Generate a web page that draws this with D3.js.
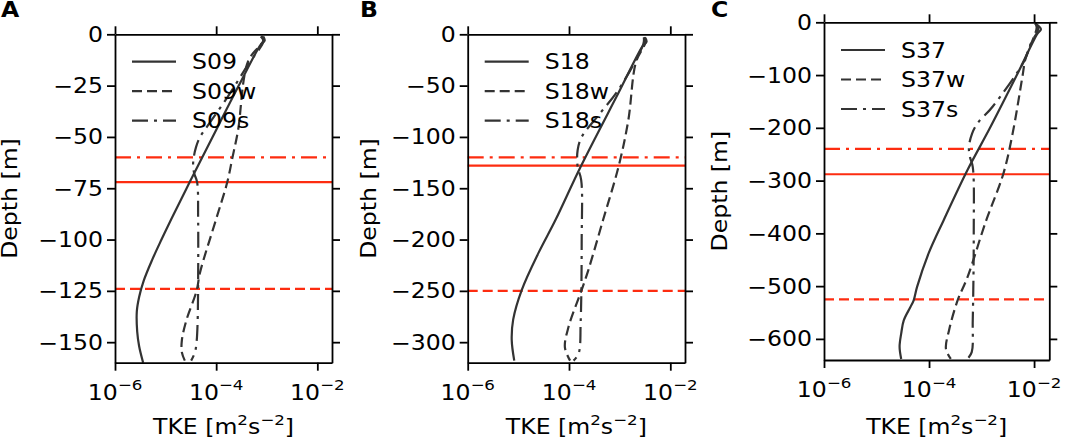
<!DOCTYPE html>
<html>
<head>
<meta charset="utf-8">
<script src="https://cdn.jsdelivr.net/npm/d3@7"></script>
<style>
  body { margin: 0; background: #fff; }
  text { font-family: "DejaVu Sans", sans-serif; fill: #000; }
</style>
</head>
<body>
<div id="chart"></div>
<script>
// depth [m] and TKE [m2 s-2]
var depthA  = [ -1, -3, -5, -25, -50, -72, -90, -100, -110, -120, -128, -135, -145, -152, -160 ];
var tkeA    = [ 8.5e-4, 9.1e-4, 7.6e-4, 2.8e-4, 8.5e-5, 3.0e-5, 1.3e-5, 8.3e-6, 5.4e-6, 3.7e-6, 3.0e-6, 2.7e-6, 2.75e-6, 3.0e-6, 3.6e-6 ];
var depthAw = [ -1, -3, -13, -47, -60, -72, -90, -116, -125, -139, -149, -155, -159 ];
var tkeAw   = [ 7.6e-4, 8.5e-4, 4.3e-4, 2.7e-4, 2.1e-4, 1.66e-4, 1.0e-4, 4.8e-5, 4.1e-5, 2.6e-5, 2.1e-5, 2.1e-5, 2.4e-5 ];
var depthAs = [ -1, -3, -15, -30, -45, -50, -55, -60, -64, -68, -72, -90, -120, -140, -150, -155, -159 ];
var tkeAs   = [ 7.9e-4, 8.7e-4, 4.2e-4, 1.74e-4, 6.6e-5, 4.8e-5, 4.0e-5, 3.6e-5, 3.5e-5, 3.7e-5, 4.2e-5, 4.4e-5, 4.4e-5, 4.3e-5, 4.1e-5, 3.8e-5, 3.2e-5 ];

var depthB  = [ -3, -7, -12, -57, -130, -181, -213, -249, -278, -298, -318 ];
var tkeB    = [ 3.16e-3, 3.4e-3, 2.8e-3, 9.5e-4, 1.66e-4, 5.4e-5, 2.5e-5, 1.17e-5, 7.9e-6, 7.4e-6, 8.3e-6 ];
var depthBw = [ -3, -8, -27, -84, -129, -181, -230, -249, -285, -305, -318 ];
var tkeBw   = [ 3.0e-3, 3.2e-3, 2.1e-3, 1.48e-3, 9.5e-4, 4.7e-4, 2.4e-4, 1.78e-4, 9.8e-5, 8.3e-5, 1.05e-4 ];
var depthBs = [ -3, -9, -54, -79, -100, -113, -129, -142, -200, -280, -311, -318 ];
var tkeBs   = [ 3.0e-3, 2.95e-3, 9.5e-4, 3.8e-4, 1.78e-4, 1.48e-4, 1.48e-4, 1.74e-4, 1.78e-4, 1.7e-4, 1.55e-4, 1.23e-4 ];

var depthC  = [ -2, -13, -22, -100, -200, -280, -375, -438, -502, -527, -540, -565, -590, -615, -638 ];
var tkeC    = [ 1.05e-2, 1.35e-2, 1.15e-2, 4.7e-3, 1.45e-3, 5.4e-4, 1.9e-4, 9.8e-5, 5.9e-5, 5.1e-5, 4.4e-5, 3.3e-5, 2.95e-5, 2.75e-5, 2.95e-5 ];
var depthCw = [ -2, -10, -68, -103, -211, -287, -378, -483, -527, -584, -619, -638 ];
var tkeCw   = [ 1.05e-2, 1.12e-2, 6.9e-3, 6.0e-3, 3.9e-3, 2.6e-3, 1.2e-3, 5.4e-4, 3.5e-4, 2.4e-4, 2.1e-4, 2.6e-4 ];
var depthCs = [ -2, -12, -40, -72, -160, -192, -211, -236, -255, -274, -400, -565, -625, -638 ];
var tkeCs   = [ 1.07e-2, 1.2e-2, 8.7e-3, 6.6e-3, 1.62e-3, 8.3e-4, 6.6e-4, 5.75e-4, 6.0e-4, 6.8e-4, 7.1e-4, 6.8e-4, 6.5e-4, 5.4e-4 ];

// mixed layer depths: dash-dot, solid, dashed
var mldA = [ -60, -72, -124 ];
var mldB = [ -120, -128, -250 ];
var mldC = [ -240, -288, -525 ];

var namesA = [ 'S09', 'S09w', 'S09s' ];
var namesB = [ 'S18', 'S18w', 'S18s' ];
var namesC = [ 'S37', 'S37w', 'S37s' ];

var xTicks  = [ 1e-6, 1e-4, 1e-2 ];
var xExps   = [ '6', '4', '2' ];
var yTicksA = [ 0, -25, -50, -75, -100, -125, -150 ];
var yTicksB = [ 0, -50, -100, -150, -200, -250, -300 ];
var yTicksC = [ 0, -100, -200, -300, -400, -500, -600 ];

var styles = [ null, '10,5', '16,6,3,6' ];   // solid, dashed, dash-dot
var mldStyle = [ '16,6,3,6', null, '10,5' ];

var FS = 20.5, SX = 1.15;   // text is a bit wider than plain DejaVu

var svg = d3.select( '#chart' ).append( 'svg' )
    .attr( 'width' , 1065 )
    .attr( 'height' , 441 );

// text placed at (x,y), optionally rotated, stretched along its baseline
function label( g , x , y , rot ) {
    return g.append( 'text' )
        .attr( 'transform' , 'translate(' + x + ',' + y + ')' + ( rot ? ' rotate(' + rot + ')' : '' ) + ' scale(' + SX + ',1)' )
        .attr( 'font-size' , FS );
}

var panels = [
    { label: 'A', lx: 0,   left: 115, right: 332,  top: 34.3, bottom: 362.7, yMin: -160, yTicks: yTicksA, names: namesA, mld: mldA,
      series: [ [ depthA, tkeA ], [ depthAw, tkeAw ], [ depthAs, tkeAs ] ], legY: 61.7 },
    { label: 'B', lx: 359, left: 467.7, right: 685, top: 34.3, bottom: 362.7, yMin: -320, yTicks: yTicksB, names: namesB, mld: mldB,
      series: [ [ depthB, tkeB ], [ depthBw, tkeBw ], [ depthBs, tkeBs ] ], legY: 61.7 },
    { label: 'C', lx: 710, left: 824, right: 1049.3, top: 22.3, bottom: 360, yMin: -640, yTicks: yTicksC, names: namesC, mld: mldC,
      series: [ [ depthC, tkeC ], [ depthCw, tkeCw ], [ depthCs, tkeCs ] ], legY: 50 }
];

panels.forEach( function( p ) {
    var x = d3.scaleLog().domain( [ 1e-6, 1.95e-2 ] ).range( [ p.left, p.right ] );
    var y = d3.scaleLinear().domain( [ p.yMin, 0 ] ).range( [ p.bottom, p.top ] );
    var g = svg.append( 'g' );

    // red mixed layer lines
    p.mld.forEach( function( d , i ) {
        g.append( 'line' )
            .attr( 'x1' , p.left ).attr( 'x2' , p.right )
            .attr( 'y1' , y( d ) ).attr( 'y2' , y( d ) )
            .attr( 'stroke' , '#fd2c10' )
            .attr( 'stroke-width' , 2.2 )
            .attr( 'stroke-dasharray' , mldStyle[ i ] );
    });

    // profiles
    var line = d3.line()
        .curve( d3.curveCatmullRom.alpha( 0.5 ) )
        .x( function( d ){ return x( d[ 1 ] ) } )
        .y( function( d ){ return y( d[ 0 ] ) } );
    p.series.forEach( function( s , i ) {
        var pts = s[ 0 ].map( function( d , j ){ return [ d , s[ 1 ][ j ] ] } );
        g.append( 'path' )
            .attr( 'd' , line( pts ) )
            .attr( 'fill' , 'none' )
            .attr( 'stroke' , '#333' )
            .attr( 'stroke-width' , 2.2 )
            .attr( 'stroke-linejoin' , 'round' )
            .attr( 'stroke-dasharray' , styles[ i ] );
    });

    // axes, ticks both sides
    var fmt = function(){ return '' };
    g.append( 'g' ).attr( 'transform' , 'translate(' + p.left + ',0)' )
        .call( d3.axisLeft( y ).tickValues( p.yTicks ).tickSize( 8 ).tickSizeOuter( 0 ).tickFormat( fmt ) );
    g.append( 'g' ).attr( 'transform' , 'translate(' + p.right + ',0)' )
        .call( d3.axisRight( y ).tickValues( p.yTicks ).tickSize( 8 ).tickSizeOuter( 0 ).tickFormat( fmt ) );
    g.append( 'g' ).attr( 'transform' , 'translate(0,' + p.bottom + ')' )
        .call( d3.axisBottom( x ).tickValues( xTicks ).tickSize( 8 ).tickSizeOuter( 0 ).tickFormat( fmt ) );
    g.append( 'g' ).attr( 'transform' , 'translate(0,' + p.top + ')' )
        .call( d3.axisTop( x ).tickValues( xTicks ).tickSize( 8 ).tickSizeOuter( 0 ).tickFormat( fmt ) );
    g.selectAll( '.domain, .tick line' ).attr( 'stroke' , '#000' ).attr( 'stroke-width' , 1.8 );

    // tick labels
    p.yTicks.forEach( function( t ) {
        label( g , p.left - 12 , y( t ) + 7.5 )
            .attr( 'text-anchor' , 'end' )
            .text( t < 0 ? '\u2212' + ( -t ) : t );
    });
    xTicks.forEach( function( t , i ) {
        var tx = label( g , x( t ) , p.bottom + 37 ).attr( 'text-anchor' , 'middle' );
        tx.append( 'tspan' ).text( '10' );
        tx.append( 'tspan' ).attr( 'font-size' , 14.5 ).attr( 'dy' , -9.5 ).text( '\u2212' + xExps[ i ] );
    });

    // axis titles
    var xt = label( g , ( p.left + p.right ) / 2 , 434 ).attr( 'text-anchor' , 'middle' );
    xt.append( 'tspan' ).text( 'TKE [m' );
    xt.append( 'tspan' ).attr( 'font-size' , 14.5 ).attr( 'dy' , -9.5 ).text( '2' );
    xt.append( 'tspan' ).attr( 'dy' , 9.5 ).text( 's' );
    xt.append( 'tspan' ).attr( 'font-size' , 14.5 ).attr( 'dy' , -9.5 ).text( '\u22122' );
    xt.append( 'tspan' ).attr( 'dy' , 9.5 ).text( ']' );

    label( g , p.lx + 17 , ( p.top + p.bottom ) / 2 , -90 )
        .attr( 'text-anchor' , 'middle' )
        .text( 'Depth [m]' );

    label( g , p.lx + 1 , 17 )
        .attr( 'font-weight' , 'bold' )
        .text( p.label );

    // legend
    p.names.forEach( function( n , i ) {
        var ly = p.legY + i * 29.5;
        g.append( 'line' )
            .attr( 'x1' , p.left + 17 ).attr( 'x2' , p.left + 61 )
            .attr( 'y1' , ly ).attr( 'y2' , ly )
            .attr( 'stroke' , '#333' )
            .attr( 'stroke-width' , 2.2 )
            .attr( 'stroke-dasharray' , styles[ i ] );
        label( g , p.left + 77 , ly + 7.5 )
            .attr( 'fill' , '#222' )
            .text( n );
    });
});
</script>
</body>
</html>
